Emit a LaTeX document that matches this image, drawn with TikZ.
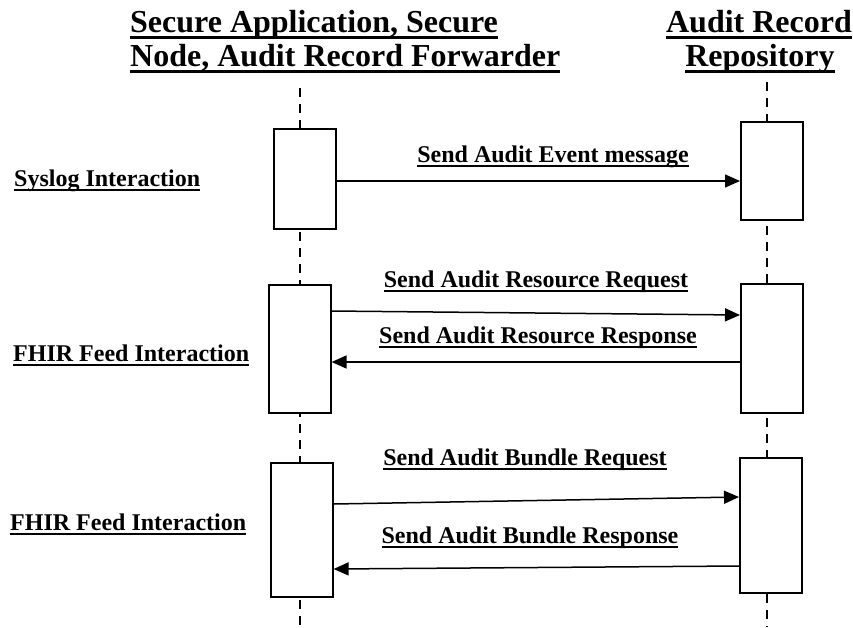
\documentclass[tikz,border=0pt]{standalone}
\usepackage{fontspec}
\setmainfont{Liberation Serif}
\usetikzlibrary{arrows.meta}
\newcommand\myul[3]{\setbox0\hbox{#3}\rlap{\rule[-#1]{\wd0}{#2}}\box0}
\tikzset{
  lifeline/.style={line width=1.4pt, dash pattern=on 9pt off 7pt},
  actbox/.style={draw, fill=white, line width=1.6pt, minimum width=62pt, inner sep=0pt, anchor=north west},
  msg/.style={line width=1.5pt, -{Triangle[length=15pt,width=13pt]}},
  title/.style={font=\fontsize{32}{36}\selectfont\bfseries, inner sep=0pt},
  lbl/.style={font=\fontsize{24}{28}\selectfont\bfseries, anchor=base, inner sep=0pt},
}
\begin{document}
\begin{tikzpicture}[x=1pt,y=-1pt]
\useasboundingbox (0,0) rectangle (853,627);
% titles
\node[title, anchor=base west] (t1) at (130,32) {\myul{7pt}{3pt}{Secure Application, Secure}};
\node[title, anchor=base west] (t2) at (130,66) {\myul{7pt}{3pt}{Node, Audit Record Forwarder}};
\node[title, anchor=base] (t3) at (759,32) {\myul{7pt}{3pt}{Audit Record}};
\node[title, anchor=base] (t4) at (760,66) {\myul{7pt}{3pt}{Repository}};
% lifelines
\coordinate (ltop) at (300,88);
\coordinate (lbot) at (300,627);
\coordinate (rtop) at (767,82);
\coordinate (rbot) at (767,627);
\draw[lifeline] (ltop) -- (lbot);
\draw[lifeline] (rtop) -- (rbot);
% activation boxes
\node[actbox, minimum height=100pt] (L1) at (273,128) {};
\node[actbox, minimum height=98pt] (R1) at (740,121) {};
\node[actbox, minimum height=128pt] (L2) at (268,284) {};
\node[actbox, minimum height=129pt] (R2) at (740,283) {};
\node[actbox, minimum height=134pt] (L3) at (270,462) {};
\node[actbox, minimum height=135pt] (R3) at (739,457) {};
% messages
\draw[msg] (L1.east |- 0,181) -- (R1.west |- 0,181);
\draw[msg] (L2.east |- 0,311) -- (R2.west |- 0,315);
\draw[msg] (R2.west |- 0,362) -- (L2.east |- 0,362);
\draw[msg] (L3.east |- 0,504) -- (R3.west |- 0,497);
\draw[msg] (R3.west |- 0,566) -- (L3.east |- 0,569);
% message labels
\node[lbl] (m1) at (553,162) {\myul{5pt}{2.4pt}{Send Audit Event message}};
\node[lbl] (m2) at (536,287) {\myul{5pt}{2.4pt}{Send Audit Resource Request}};
\node[lbl] (m3) at (538,343) {\myul{5pt}{2.4pt}{Send Audit Resource Response}};
\node[lbl] (m4) at (525,465) {\myul{5pt}{2.4pt}{Send Audit Bundle Request}};
\node[lbl] (m5) at (530,543) {\myul{5pt}{2.4pt}{Send Audit Bundle Response}};
% interaction labels
\node[lbl, anchor=base west] (s1) at (14,186) {\myul{5pt}{2.4pt}{Syslog Interaction}};
\node[lbl, anchor=base west] (s2) at (13,361) {\myul{5pt}{2.4pt}{FHIR Feed Interaction}};
\node[lbl, anchor=base west] (s3) at (10,530) {\myul{5pt}{2.4pt}{FHIR Feed Interaction}};
\end{tikzpicture}
\end{document}
